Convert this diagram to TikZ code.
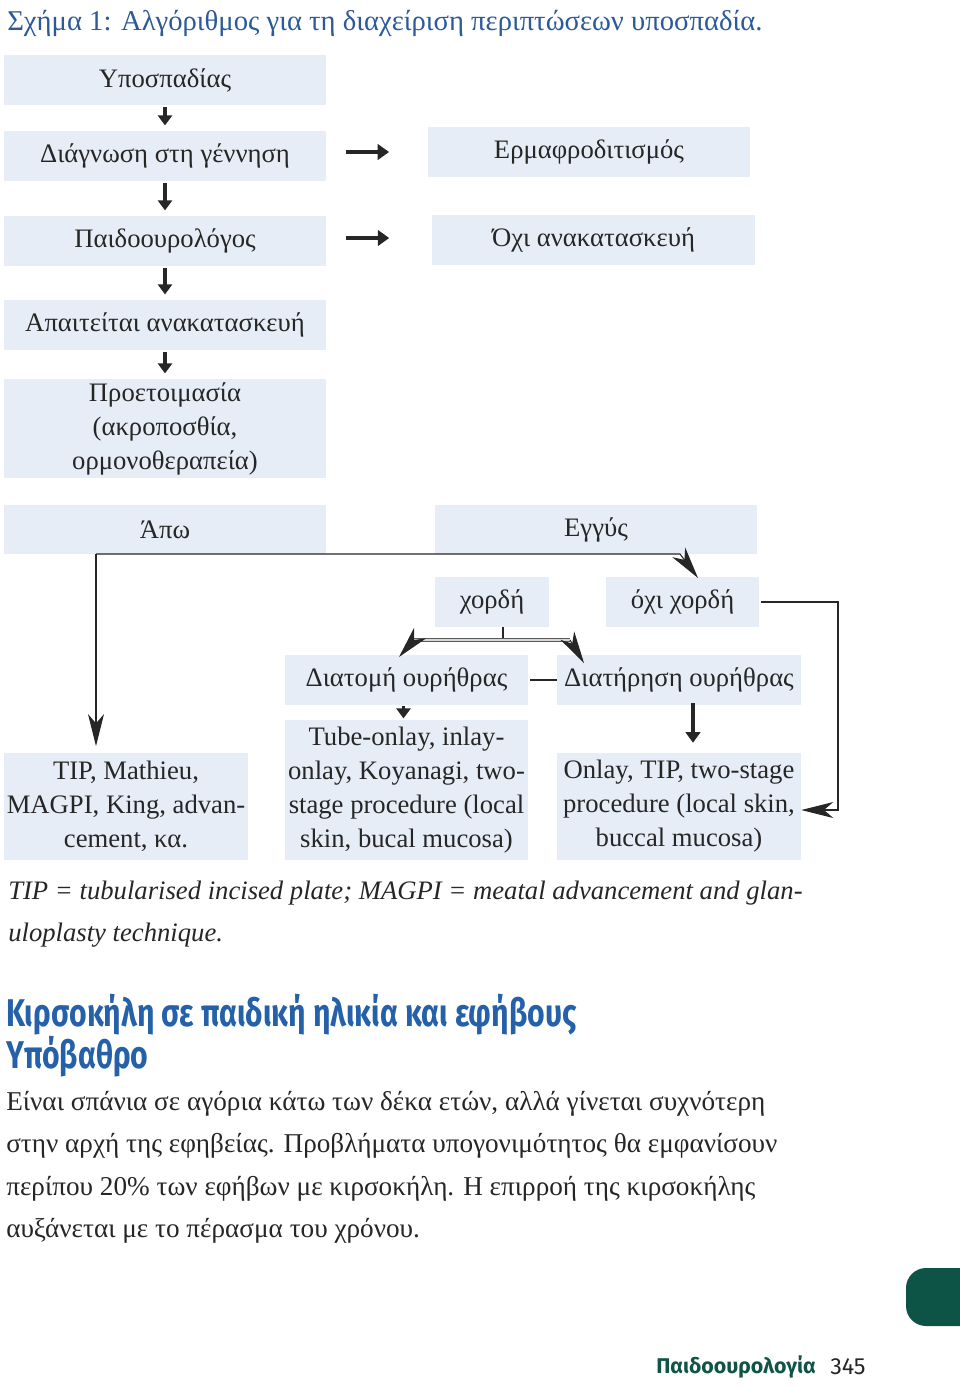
\documentclass[tikz,border=0pt]{standalone}
\usepackage{fontspec}
\setmainfont{Liberation Serif}
\newfontfamily\headfont[FakeStretch=0.78]{Fira Sans}
\newfontfamily\footfont{Fira Sans}
\usetikzlibrary{arrows.meta,calc}
\definecolor{boxc}{HTML}{E7EDF6}
\definecolor{titleblue}{HTML}{2C5A97}
\definecolor{headblue}{HTML}{2461A8}
\definecolor{tabgreen}{HTML}{0E5446}
\definecolor{footgreen}{HTML}{0F5446}
\definecolor{linec}{HTML}{262626}
\tikzset{
  fbox/.style={fill=boxc, inner sep=0pt, align=center, text=black!85,
    font=\fontsize{20}{25.5}\selectfont},
  thk/.style={draw=linec, line width=2.6pt, -{Triangle[length=7.5pt,width=10.5pt]}},
  thkr/.style={draw=linec, line width=3.7pt, -{Triangle[length=8.5pt,width=11.5pt]}},
  thn/.style={draw=linec, line width=0.8pt},
  thnarrow/.style={draw=linec, line width=0.8pt, -{Stealth[length=24pt,width=12pt,inset=7pt]}},
  plaintext/.style={inner sep=0pt, anchor=west}
}
\begin{document}
\begin{tikzpicture}[x=0.75pt,y=-0.75pt]
\useasboundingbox (0,0) rectangle (960,1389);
% title
\node[plaintext, text=titleblue, font=\fontsize{21.5}{24}\selectfont] (title) at (7,23) {Σχήμα 1: Αλγόριθμος για τη διαχείριση περιπτώσεων υποσπαδία.};
% boxes
\node[fbox, minimum width=241.5pt, minimum height=37.5pt] (hyp) at (165,80) {Υποσπαδίας};
\node[fbox, minimum width=241.5pt, minimum height=37.5pt] (diag) at (165,156) {Διάγνωση στη γέννηση};
\node[fbox, minimum width=241.5pt, minimum height=37.5pt] (herm) at (589,152) {Ερμαφροδιτισμός};
\node[fbox, minimum width=241.5pt, minimum height=37.5pt] (paid) at (165,241) {Παιδοουρολόγος};
\node[fbox, minimum width=242pt, minimum height=37.5pt] (ochi) at (593.5,240) {Όχι ανακατασκευή};
\node[fbox, minimum width=241.5pt, minimum height=37.5pt] (apait) at (165,325) {Απαιτείται ανακατασκευή};
\node[fbox, minimum width=241.5pt, minimum height=74.25pt] (proet) at (165,428.5) {Προετοιμασία\\(ακροποσθία,\\ορμονοθεραπεία)};
\node[fbox, minimum width=241.5pt, minimum height=36.75pt] (apo) at (165,529.5) {Άπω};
\node[fbox, minimum width=241.5pt, minimum height=36.75pt] (engys) at (596,529.5) {Εγγύς};
\node[fbox, minimum width=85.5pt, minimum height=37.5pt] (chordi) at (492,602) {χορδή};
\node[fbox, minimum width=114.75pt, minimum height=37.5pt] (ochich) at (682.5,602) {όχι χορδή};
\node[fbox, minimum width=182.25pt, minimum height=37.5pt] (diatom) at (406.5,680) {Διατομή ουρήθρας};
\node[fbox, minimum width=183pt, minimum height=37.5pt] (diatir) at (679,680) {Διατήρηση ουρήθρας};
\node[fbox, minimum width=183pt, minimum height=80.25pt] (tip) at (126,806.5) {TIP, Mathieu,\\MAGPI, King, advan-\\cement, κα.};
\node[fbox, minimum width=182.25pt, minimum height=105pt] (tube) at (406.5,790) {Tube-onlay, inlay-\\onlay, Koyanagi, two-\\stage procedure (local\\skin, bucal mucosa)};
\node[fbox, minimum width=183pt, minimum height=80.25pt] (onlay) at (679,806.5) {Onlay, TIP, two-stage\\procedure (local skin,\\buccal mucosa)};
% short thick arrows, left column
\draw[thk, shorten <=1.5pt, shorten >=4pt] (hyp.south) -- (diag.north);
\draw[thk, shorten <=1.5pt, shorten >=4pt] (diag.south) -- (paid.north);
\draw[thk, shorten <=1.5pt, shorten >=4pt] (paid.south) -- (apait.north);
\draw[thk, shorten <=1.5pt, shorten >=4pt] (apait.south) -- (proet.north);
% right arrows
\draw[thkr, shorten <=15pt, shorten >=29pt] (diag.east |- herm.west) -- (herm.west);
\draw[thkr, shorten <=15pt, shorten >=32pt] (paid.east |- 0,238) -- (ochi.west |- 0,238);
% Apo / Engys connector
\coordinate (j1) at (96,554);
\coordinate (j2) at (680,554);
\coordinate (j3) at (698,578);
\draw[thnarrow, shorten >=5pt] (j1) -- (j1 |- tip.north);
\draw[thnarrow] (j1) -- (j2) -- (j3);
% chordi connector
\coordinate (c0) at ($(chordi.south)+(11,0)$);
\coordinate (c1) at (503,640);
\coordinate (cl) at (414,640);
\coordinate (cr) at (570,640);
\coordinate (cltip) at (399,657);
\coordinate (crtip) at (584,663);
\draw[thn] (c0) -- (c1);
\draw[draw=gray!70!black, line width=0.7pt, double=gray!30, double distance=1.3pt] (cl) -- (cr);
\draw[thnarrow] (cl) -- (cltip);
\draw[thnarrow] (cr) -- (crtip);
% between diatom and diatir
\draw[thn, shorten <=1.5pt] (diatom.east) -- (diatir.west);
% diatom -> tube
\draw[thk, shorten <=0.5pt, shorten >=1pt] ($(diatom.south)+(-3,0)$) -- ($(tube.north)+(-3,0)$);
% diatir -> onlay
\draw[thk, line width=3pt, -{Triangle[length=8pt,width=11pt]}, shorten <=0pt, shorten >=7.5pt] ($(diatir.south)+(14,-2)$) -- ($(onlay.north)+(14,0)$);
% ochi chordi -> onlay
\coordinate (k1) at (838,602);
\coordinate (k2) at (838,810);
\draw[thnarrow, shorten <=1pt] (ochich.east) -- (k1) -- (k2) -- (onlay.east |- k2);
% caption
\node[plaintext, font=\itshape\fontsize{20}{24}\selectfont, text=black!85] (cap1) at (8,893) {TIP = tubularised incised plate; MAGPI = meatal advancement and glan-};
\node[plaintext, font=\itshape\fontsize{20}{24}\selectfont, text=black!85] (cap2) at (8,935) {uloplasty technique.};
% heading
\node[plaintext, font=\headfont\bfseries\fontsize{29}{34}\selectfont, text=headblue] (head1) at (6,1015) {Κιρσοκήλη σε παιδική ηλικία και εφήβους};
\node[plaintext, font=\headfont\bfseries\fontsize{29}{34}\selectfont, text=headblue] (head2) at (6,1057) {Υπόβαθρο};
% body
\node[plaintext, font=\fontsize{20.4}{24}\selectfont, text=black!85] (b1) at (6,1104) {Είναι σπάνια σε αγόρια κάτω των δέκα ετών, αλλά γίνεται συχνότερη};
\node[plaintext, font=\fontsize{20.4}{24}\selectfont, text=black!85] (b2) at (6,1146) {στην αρχή της εφηβείας. Προβλήματα υπογονιμότητος θα εμφανίσουν};
\node[plaintext, font=\fontsize{20.4}{24}\selectfont, text=black!85] (b3) at (6,1189) {περίπου 20\% των εφήβων με κιρσοκήλη. Η επιρροή της κιρσοκήλης};
\node[plaintext, font=\fontsize{20.4}{24}\selectfont, text=black!85] (b4) at (6,1231) {αυξάνεται με το πέρασμα του χρόνου.};
% footer tab
\fill[tabgreen, rounded corners=15pt] (906,1268) rectangle (990,1326);
\node[plaintext, font=\footfont\bfseries\fontsize{16}{20}\selectfont, text=footgreen] (foot) at (656,1367) {Παιδοουρολογία};
\node[plaintext, font=\footfont\fontsize{17.5}{20}\selectfont, text=black!85] (page) at (830,1367) {345};
\end{tikzpicture}
\end{document}
